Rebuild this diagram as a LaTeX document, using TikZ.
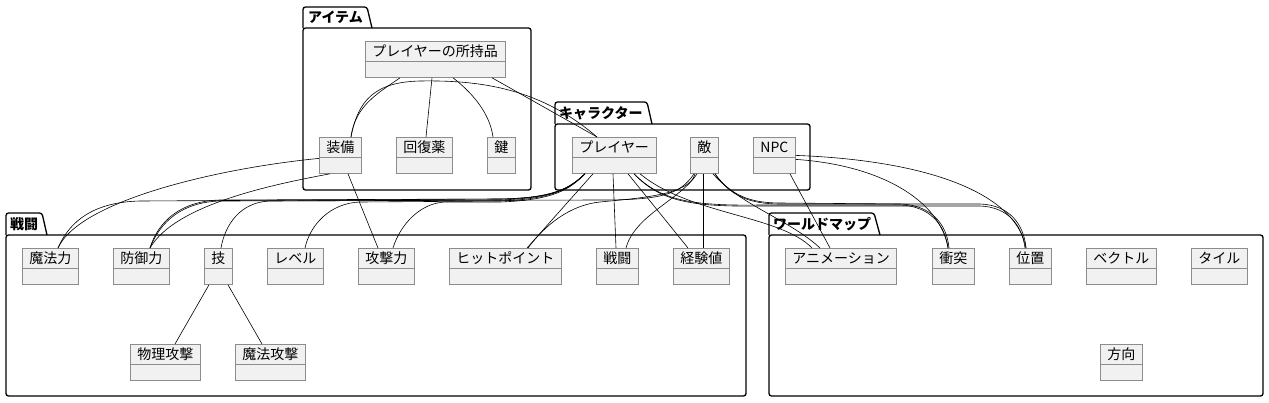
\documentclass[tikz,border=0pt]{standalone}
\usepackage{fontspec}
\setmainfont{Noto Sans CJK JP}
\usepackage{tikz}
\usetikzlibrary{positioning}
\definecolor{clsfill}{HTML}{F1F1F1}
\definecolor{clsline}{HTML}{8C8C8C}
\tikzset{
  cls/.style={draw=clsline, fill=clsfill, line width=0.8pt, anchor=north west,
    inner xsep=7pt, inner ysep=3pt, text height=12pt, text depth=18pt,
    font=\fontsize{14}{16}\selectfont,
    path picture={\draw[clsline, line width=0.8pt]
      ([yshift=-20pt]path picture bounding box.north west) --
      ([yshift=-20pt]path picture bounding box.north east);}},
  pkg/.style={draw, line width=1.3pt, rounded corners=2.5pt},
  pkglabel/.style={anchor=west, inner sep=0pt, font=\fontsize{14}{16}\selectfont\bfseries},
  rel/.style={draw, line width=0.6pt}
}

\begin{document}
\begin{tikzpicture}[x=1pt, y=-1pt]
  \useasboundingbox (0,0) rectangle (1269,402);

  % packages
  \draw[pkg] (303,28) -- (303,7) -- (367,7) -- (372,28);
  \draw[pkg] (303,28) rectangle (531,190);
  \node[pkglabel] (itemtab) at (308,17.5) {アイテム};
  \draw[pkg] (555,124) -- (555,102) -- (647,102) -- (652,124);
  \draw[pkg] (555,124) rectangle (810,190);
  \node[pkglabel] (chartab) at (559,113.5) {キャラクター};
  \draw[pkg] (6,235) -- (6,213) -- (42,213) -- (47,235);
  \draw[pkg] (6,235) rectangle (746,396);
  \node[pkglabel] (battletab) at (10,224.5) {戦闘};
  \draw[pkg] (769,235) -- (769,213) -- (874,213) -- (880,235);
  \draw[pkg] (769,235) rectangle (1263,396);
  \node[pkglabel] (worldtab) at (773,224.5) {ワールドマップ};

  % classes
  \node[cls] (inv) at (365,41) {プレイヤーの所持品};
  \node[cls] (equip) at (319,137) {装備};
  \node[cls] (potion) at (396,137) {回復薬};
  \node[cls] (key) at (487,137) {鍵};
  \node[cls] (player) at (572,137) {プレイヤー};
  \node[cls] (enemy) at (690,137) {敵};
  \node[cls] (npc) at (753,137) {NPC};
  \node[cls] (mp) at (22,248) {魔法力};
  \node[cls] (def) at (113,248) {防御力};
  \node[cls] (skill) at (204,248) {技};
  \node[cls] (lvl) at (267,248) {レベル};
  \node[cls] (atk) at (358,248) {攻撃力};
  \node[cls] (hp) at (449,248) {ヒットポイント};
  \node[cls] (battle) at (596,248) {戦闘};
  \node[cls] (exp) at (673,248) {経験値};
  \node[cls] (phys) at (130,344) {物理攻撃};
  \node[cls] (magic) at (235,344) {魔法攻撃};
  \node[cls] (anim) at (785,248) {アニメーション};
  \node[cls] (coll) at (932,248) {衝突};
  \node[cls] (pos) at (1009,248) {位置};
  \node[cls] (vec) at (1086,248) {ベクトル};
  \node[cls] (tile) at (1191,248) {タイル};
  \node[cls] (dir) at (1100,344) {方向};

  % inventory
  \draw[rel] ([xshift=35pt]inv.south west) .. controls (380,92) and (355,105) .. ([xshift=32pt]equip.north west);
  \draw[rel] ([xshift=67pt]inv.south west) -- ([xshift=30pt]potion.north west);
  \draw[rel] ([xshift=88pt]inv.south west) .. controls (475,95) and (490,115) .. ([xshift=6pt]key.north west);
  \draw[rel] ([xshift=127pt]inv.south west) -- ([xshift=25pt]player.north west);
  \draw[rel] ([xshift=32pt]equip.north west) .. controls (358,100) and (375,82) .. (420,81)
    .. controls (480,80) and (540,88) .. ([xshift=25pt]player.north west);

  % equipment
  \draw[rel] ([yshift=-3pt]equip.west) .. controls (220,168) and (80,200) .. ([xshift=36pt]mp.north west);
  \draw[rel] ([xshift=11pt]equip.south west) .. controls (270,185) and (175,205) .. ([xshift=37pt]def.north west);
  \draw[rel] ([xshift=29pt]equip.south west) -- ([xshift=20pt]atk.north west);

  % player to battle
  \draw[rel] ([xshift=13pt]player.south west) .. controls (570,188) and (555,198) .. (500,199)
    -- (140,201) .. controls (95,202) and (70,220) .. ([xshift=36pt]mp.north west);
  \draw[rel] ([xshift=13pt]player.south west) .. controls (570,188) and (555,198) .. (500,199)
    -- (220,200) .. controls (180,201) and (158,222) .. ([xshift=37pt]def.north west);
  \draw[rel] ([xshift=13pt]player.south west) .. controls (570,188) and (555,198) .. (500,200)
    -- (270,201) .. controls (240,202) and (225,225) .. ([xshift=17pt]skill.north west);
  \draw[rel] ([xshift=13pt]player.south west) .. controls (570,188) and (555,199) .. (500,201)
    -- (360,202) .. controls (330,203) and (310,225) .. ([xshift=38pt]lvl.north west);
  \draw[rel] ([xshift=13pt]player.south west) .. controls (570,189) and (555,200) .. (500,202)
    -- (445,202) .. controls (420,203) and (400,225) .. ([xshift=35pt]atk.north west);
  \draw[rel] ([xshift=21pt]player.south west) -- ([xshift=78pt]hp.north west);
  \draw[rel] ([xshift=41pt]player.south west) -- ([xshift=20pt]battle.north west);
  \draw[rel] ([xshift=56pt]player.south west) -- ([xshift=15pt]exp.north west);

  % enemy to battle
  \draw[rel] ([xshift=4pt]enemy.south west) .. controls (680,195) and (660,200) .. (600,200)
    -- (220,201) .. controls (182,202) and (160,222) .. ([xshift=37pt]def.north west);
  \draw[rel] ([xshift=5pt]enemy.south west) .. controls (690,195) and (640,198) .. (600,202)
    .. controls (570,205) and (545,225) .. ([xshift=79pt]hp.north west);
  \draw[rel] ([xshift=7pt]enemy.south west) .. controls (680,200) and (635,215) .. ([xshift=30pt]battle.north west);
  \draw[rel] ([xshift=13pt]enemy.south west) -- ([xshift=30pt]exp.north west);

  % world map
  \draw[rel] ([xshift=68pt]player.south west) .. controls (690,215) and (780,215) .. ([xshift=27pt]anim.north west);
  \draw[rel] ([xshift=23pt]enemy.south west) .. controls (740,205) and (790,220) .. ([xshift=35pt]anim.north west);
  \draw[rel] ([xshift=37pt]npc.south west) -- ([xshift=45pt]anim.north west);
  \draw[rel] ([xshift=62pt]player.south west) .. controls (660,200) and (690,206) .. (760,205)
    -- (900,205) .. controls (930,206) and (945,225) .. ([xshift=16pt]coll.north west);
  \draw[rel] ([xshift=62pt]player.south west) .. controls (660,201) and (690,207) .. (760,206)
    -- (980,206) .. controls (1008,207) and (1022,225) .. ([xshift=16pt]pos.north west);
  \draw[rel] ([xshift=25pt]enemy.south west) .. controls (730,195) and (750,203) .. (780,203)
    -- (900,204) .. controls (932,205) and (947,225) .. ([xshift=17pt]coll.north west);
  \draw[rel] ([xshift=25pt]enemy.south west) .. controls (730,196) and (750,204) .. (780,204)
    -- (980,204) .. controls (1010,205) and (1024,225) .. ([xshift=17pt]pos.north west);
  \draw[rel] ([yshift=-4pt]npc.east) .. controls (880,165) and (940,200) .. ([xshift=16pt]coll.north west);
  \draw[rel] ([yshift=0pt]npc.east) .. controls (920,160) and (1015,190) .. ([xshift=17pt]pos.north west);

  % skills
  \draw[rel] ([xshift=5pt]skill.south west) -- ([xshift=45pt]phys.north west);
  \draw[rel] ([xshift=24pt]skill.south west) -- ([xshift=27pt]magic.north west);
\end{tikzpicture}
\end{document}
